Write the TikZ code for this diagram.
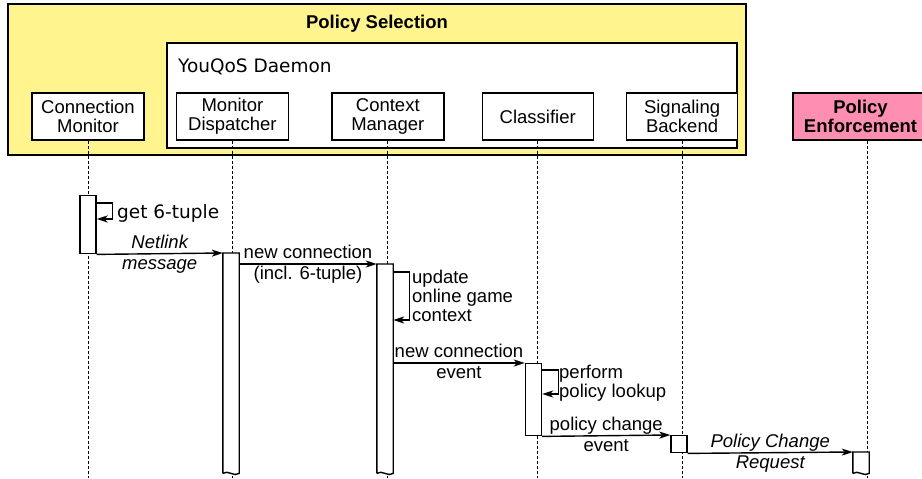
\documentclass[tikz,border=0pt]{standalone}
\usepackage{fontspec}
\setmainfont{Liberation Sans}
\newfontfamily\djv{DejaVu Sans}
\usetikzlibrary{arrows.meta}
\usetikzlibrary{positioning}
\definecolor{selyellow}{RGB}{255,244,142}
\definecolor{enfpink}{RGB}{255,142,179}

\tikzset{
  head/.style={draw, line width=1.4pt, fill=white, minimum width=112pt, minimum height=47pt, align=center, inner sep=1pt},
  life/.style={line width=1pt, dash pattern=on 3pt off 2pt},
  bar/.style={draw, line width=1.4pt, fill=white, minimum width=16pt, inner sep=0pt, anchor=north},
  openbar/.style={minimum width=16pt, inner sep=0pt, anchor=north},
  msg/.style={->, >={Stealth[length=11pt, width=7pt, inset=3pt]}, line width=1.4pt},
  lbl/.style={inner sep=1pt, text height=14pt, text depth=4pt},
  note/.style={inner sep=1pt, align=left, anchor=west},
}
\newcommand{\wavybar}[1]{%
  \draw[line width=1.4pt, fill=white] (#1.south west) -- (#1.north west) -- (#1.north east) -- (#1.south east)
    .. controls +(-5,4) and +(5,-4) .. (#1.south west);}

\begin{document}
\begin{tikzpicture}[x=1pt, y=-1pt, font=\fontsize{18.5}{19}\selectfont]
  \useasboundingbox (0,0) rectangle (922,479);
  \coordinate (bottom) at (0,478);

  % frames
  \draw[line width=2pt, fill=selyellow] (8,4) rectangle (746,155);
  \node[anchor=base, inner sep=0pt, font=\fontsize{18.5}{19}\selectfont\bfseries] (sel) at (377,28) {Policy Selection};
  \draw[line width=1.4pt, fill=white] (167,43) rectangle (737,148);
  \node[anchor=base west, inner sep=0pt, font=\fontsize{18.5}{19}\selectfont\djv] (daemon) at (178,72) {YouQoS Daemon};

  % heads
  \node[head] (cm) at (88,116.5) {Connection\\Monitor};
  \node[head, right=31pt of cm] (md) {Monitor\\Dispatcher};
  \node[head, right=42pt of md] (ctx) {Context\\Manager};
  \node[head, right=37pt of ctx, minimum width=111pt] (cls) {Classifier};
  \node[head, right=32pt of cls, minimum width=111pt] (sb) {Signaling\\Backend};
  \node[head, right=54pt of sb, minimum width=135pt, fill=enfpink,
        font=\fontsize{18.5}{19}\selectfont\bfseries] (pe) {Policy\\Enforcement};
  \coordinate (peline) at ([xshift=6.5pt]pe.south);

  % lifelines
  \foreach \n in {cm,md,ctx,cls,sb}
    \draw[life] (\n.south) -- (\n.south |- bottom);
  \draw[life] (peline) -- (peline |- bottom);

  % activations
  \node[bar, minimum height=58pt] (a1) at (88,195) {};
  \node[openbar, minimum height=220pt] (a2) at (231,253) {};
  \node[openbar, minimum height=209pt] (a3) at (385,264) {};
  \node[bar, minimum height=72pt] (a4) at (533.5,363) {};
  \node[bar, minimum height=17pt] (a5) at (679,435) {};
  \node[openbar, minimum height=21pt] (a6) at (861,452) {};
  \wavybar{a2}
  \wavybar{a3}
  \wavybar{a6}

  % self messages
  \draw[msg] ([yshift=-8pt]a1.north east) -- ++(16,0) -- ++(0,16) -- ++(-16,0);
  \node[note, anchor=base west] (tuple) at (116,218) {\djv get 6-tuple};
  \draw[msg] ([yshift=-8pt]a3.north east) -- ++(16,0) -- ++(0,48) -- ++(-16,0);
  \node[note] (update) at (411,295.5) {update\\online game\\context};
  \draw[msg] ([yshift=-7pt]a4.north east) -- ++(16,0) -- ++(0,24) -- ++(-16,0);
  \node[note] (lookup) at (558,383) {perform\\policy lookup};

  % messages
  \draw[msg] (a1.south east) -- node[lbl, above] (netlink) {\itshape Netlink}
    node[lbl, below] (netmsg) {\itshape message} (a2.north west);
  \draw[msg] (a2.east |- a3.north) -- node[lbl, above] (newconn) {new connection}
    node[lbl, below] (incl) {(incl. 6-tuple)} (a3.north west);
  \draw[msg] (a3.east |- a4.north) -- node[lbl, above] (newevt) {new connection}
    node[lbl, below] (evt) {event} (a4.north west);
  \draw[msg] (a4.south east) -- node[lbl, above] (change) {policy change}
    node[lbl, below] (chevt) {event} (a5.north west);
  \draw[msg] (a5.south east) -- node[lbl, above] (request) {\itshape Policy Change}
    node[lbl, below] (reqtxt) {\itshape Request} (a6.north west);
\end{tikzpicture}
\end{document}
